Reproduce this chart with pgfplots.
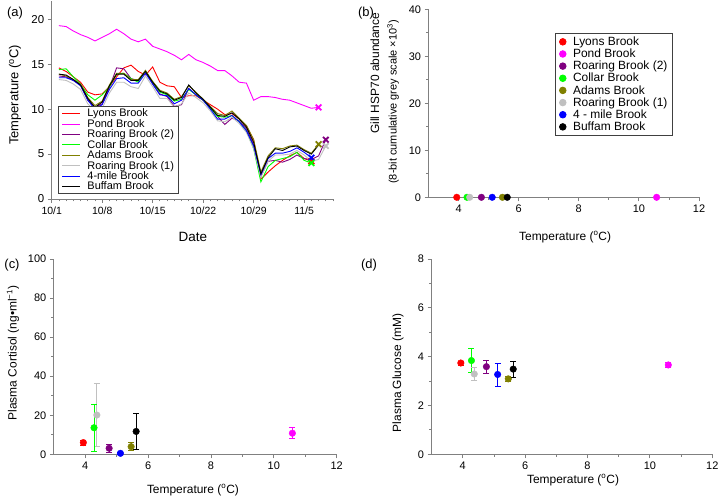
\documentclass[border=0pt]{standalone}
\usepackage{pgfplots}
\pgfplotsset{compat=1.18}
\usepackage{fontspec}
\setmainfont{Liberation Sans}

\definecolor{lyons}{RGB}{255,0,0}
\definecolor{pond}{RGB}{255,0,255}
\definecolor{roartwo}{RGB}{128,0,128}
\definecolor{collar}{RGB}{0,255,0}
\definecolor{adams}{RGB}{128,128,0}
\definecolor{roarone}{RGB}{192,192,192}
\definecolor{mile}{RGB}{0,0,255}
\definecolor{axgray}{RGB}{128,128,128}

\pgfplotsset{
  panel/.style={
    scale only axis,
    axis x line*=bottom, axis y line*=left,
    axis line style={axgray, line width=0.8bp, -},
    tick style={axgray, line width=0.8bp},
    tick align=outside,
    major tick length=4bp, minor tick length=2.5bp,
    /pgf/number format/assume math mode=true,
    tick label style={font=\fontsize{11}{13}\selectfont, black},
    label style={font=\fontsize{12}{14}\selectfont},
    clip=false,
  },
  dot/.style={only marks, mark=*, mark size=3.3bp},
  bars/.style={error bars/.cd, y dir=both, y explicit,
    error bar style={line width=0.8bp},
    error mark options={rotate=90, mark size=3bp, line width=0.8bp}},
  cross/.style={only marks, mark=x, mark size=4bp, line width=1.8bp, forget plot},
}

\begin{document}
\begin{tikzpicture}
\path[use as bounding box] (0,0) rectangle (720bp,501bp);

% panel letters
\node[font=\fontsize{13}{15}\selectfont] at (15bp,488bp) {(a)};
\node[font=\fontsize{13}{15}\selectfont] at (366bp,488bp) {(b)};
\node[font=\fontsize{13}{15}\selectfont] at (12bp,236bp) {(c)};
\node[font=\fontsize{13}{15}\selectfont] at (369bp,236bp) {(d)};

% (a) temperature time series, days after 10/1
\begin{axis}[panel, at={(51.7bp,302bp)}, anchor=south west,
  width=281.3bp, height=197.6bp,
  xmin=0, xmax=39, ymin=0, ymax=22,
  xtick={0,7,14,21,28,35},
  xticklabels={10/1,10/8,10/15,10/22,10/29,11/5},
  minor xtick={0,...,39},
  ytick={0,5,10,15,20},
  xticklabel style={font=\fontsize{10.5}{12}\selectfont},
  yticklabel style={font=\fontsize{11.5}{13}\selectfont},
  xlabel={Date}, ylabel={Temperature (\textsuperscript{o}C)},
  xlabel style={at={(axis description cs:0.502,-0.192)}, anchor=center, font=\fontsize{13.5}{15}\selectfont},
  ylabel style={at={(axis description cs:-0.13,0.526)}, anchor=center, font=\fontsize{13}{15}\selectfont},
  legend style={at={(0.021,0.024)}, anchor=south west, draw=black!75, line width=0.8bp,
    font=\fontsize{11}{12}\selectfont, nodes={inner sep=0.5pt},
    inner xsep=4pt, column sep=6pt},
  legend cell align=left,
  legend image code/.code={\draw[#1, line width=1bp] (0bp,0bp) -- (18bp,0bp);},
  every axis plot/.append style={line width=0.9bp},
]
\addplot[lyons, no marks] coordinates {
(1,14.6) (2,14.2) (3,13.6) (4,13.0) (5,11.9) (6,11.6) (7,11.7) (8,12.5) (9,13.6)
(10,14.6) (11,14.9) (12,14.2) (13,13.8) (14,14.7) (15,13.0) (16,12.6) (17,12.5)
(18,11.3) (19,11.5) (20,11.5) (21,11.0) (22,10.5) (23,10.0) (24,9.4) (25,9.5)
(26,8.9) (27,8.1) (28,6.6) (29,2.2) (30,3.0) (31,3.7) (32,4.3) (33,4.8) (34,5.2)
(35,4.5) (36,4.2)};
\addlegendentry{Lyons Brook}
\addplot[pond, no marks] coordinates {
(1,19.3) (2,19.2) (3,18.7) (4,18.3) (5,18.0) (6,17.6) (7,18.0) (8,18.4) (9,18.9)
(10,18.4) (11,17.8) (12,17.5) (13,17.8) (14,17.0) (15,16.7) (16,16.4) (17,16.0)
(18,15.5) (19,16.1) (20,15.5) (21,15.2) (22,14.8) (23,14.3) (24,14.3) (25,13.7)
(26,13.0) (27,12.9) (28,11.0) (29,11.4) (30,11.4) (31,11.3) (32,11.1) (33,11.0)
(34,10.7) (35,10.4) (36,10.1) (37,10.2)};
\addlegendentry{Pond Brook}
\addplot[roartwo, no marks] coordinates {
(1,13.7) (2,13.6) (3,13.2) (4,12.7) (5,11.0) (6,10.2) (7,10.6) (8,12.4) (9,14.6)
(10,14.5) (11,13.4) (12,13.2) (13,14.3) (14,12.8) (15,11.7) (16,11.4) (17,10.3)
(18,10.5) (19,12.3) (20,11.6) (21,11.0) (22,10.2) (23,9.2) (24,8.3) (25,9.0)
(26,8.7) (27,7.8) (28,6.0) (29,2.5) (30,4.2) (31,4.3) (32,4.1) (33,4.4) (34,4.9)
(35,4.5) (36,4.4) (37,4.8) (38,6.6)};
\addlegendentry{Roaring Brook (2)}
\addplot[collar, no marks] coordinates {
(1,14.4) (2,14.5) (3,13.6) (4,12.8) (5,11.6) (6,11.0) (7,11.6) (8,12.5) (9,13.9)
(10,14.0) (11,13.4) (12,13.0) (13,14.3) (14,13.0) (15,11.9) (16,11.6) (17,10.9)
(18,11.1) (19,12.2) (20,11.6) (21,11.0) (22,10.1) (23,9.2) (24,9.1) (25,9.3)
(26,8.6) (27,7.6) (28,5.6) (29,1.9) (30,3.6) (31,4.3) (32,4.5) (33,4.7) (34,5.2)
(35,4.3) (36,4.0)};
\addlegendentry{Collar Brook}
\addplot[adams, no marks] coordinates {
(1,13.9) (2,13.7) (3,13.3) (4,12.8) (5,11.3) (6,10.4) (7,10.9) (8,12.7) (9,14.0)
(10,14.0) (11,13.3) (12,13.3) (13,14.3) (14,13.1) (15,12.1) (16,11.8) (17,11.1)
(18,11.4) (19,12.6) (20,11.9) (21,11.1) (22,10.3) (23,9.5) (24,9.3) (25,9.8)
(26,9.0) (27,8.2) (28,6.6) (29,3.0) (30,4.8) (31,5.7) (32,5.6) (33,5.9) (34,6.0)
(35,5.5) (36,5.1) (37,6.1)};
\addlegendentry{Adams Brook}
\addplot[roarone, no marks] coordinates {
(1,13.3) (2,13.2) (3,12.8) (4,12.2) (5,10.6) (6,9.8) (7,10.1) (8,11.8) (9,13.0)
(10,13.0) (11,12.5) (12,12.3) (13,13.7) (14,12.5) (15,11.2) (16,11.2) (17,10.2)
(18,10.6) (19,11.8) (20,11.3) (21,10.7) (22,9.8) (23,8.7) (24,8.6) (25,9.1)
(26,8.4) (27,7.4) (28,5.6) (29,2.4) (30,4.2) (31,4.9) (32,4.9) (33,5.0) (34,5.4)
(35,4.9) (36,4.2) (37,4.4) (38,5.9)};
\addlegendentry{Roaring Brook (1)}
\addplot[mile, no marks] coordinates {
(1,13.5) (2,13.5) (3,13.2) (4,12.6) (5,11.0) (6,10.0) (7,10.5) (8,12.2) (9,13.4)
(10,13.5) (11,12.9) (12,12.9) (13,14.0) (14,12.8) (15,11.6) (16,11.5) (17,10.6)
(18,11.0) (19,12.3) (20,11.6) (21,11.0) (22,10.0) (23,8.9) (24,8.9) (25,9.3)
(26,8.6) (27,7.6) (28,5.9) (29,2.7) (30,4.5) (31,5.1) (32,5.1) (33,5.3) (34,5.7)
(35,5.2) (36,4.6)};
\addlegendentry{4-mile Brook}
\addplot[black, no marks] coordinates {
(1,13.9) (2,13.8) (3,13.3) (4,12.7) (5,11.2) (6,10.2) (7,10.8) (8,12.6) (9,13.9)
(10,13.9) (11,13.2) (12,13.2) (13,14.2) (14,13.0) (15,12.0) (16,11.7) (17,11.0)
(18,11.3) (19,12.7) (20,11.8) (21,11.1) (22,10.2) (23,9.3) (24,9.2) (25,9.6)
(26,8.9) (27,8.0) (28,6.3) (29,2.8) (30,4.6) (31,5.6) (32,5.4) (33,5.8) (34,5.9)
(35,5.4) (36,5.0) (37,6.0)};
\addlegendentry{Buffam Brook}
% sampling days
\addplot[cross, lyons] coordinates {(36,4.2)};
\addplot[cross, roarone] coordinates {(38,5.9)};
\addplot[cross, pond] coordinates {(37,10.2)};
\addplot[cross, mile] coordinates {(36,4.6)};
\addplot[cross, collar] coordinates {(36,4.0)};
\addplot[cross, adams] coordinates {(37,6.1)};
\addplot[cross, roartwo] coordinates {(38,6.6)};
\end{axis}

% (b) gill HSP70
\begin{axis}[panel, at={(428.5bp,303.7bp)}, anchor=south west,
  width=270.5bp, height=188bp,
  xmin=3, xmax=12, ymin=0, ymax=40,
  xtick={4,6,...,12}, minor xtick={5,7,9,11},
  ytick={0,10,...,40}, minor ytick={5,15,25,35},
  xlabel={Temperature (\textsuperscript{o}C)},
  ylabel={Gill HSP70 abundance},
  xlabel style={at={(axis description cs:0.505,-0.211)}, anchor=center},
  ylabel style={at={(axis description cs:-0.198,0.66)}, anchor=center},
  legend style={at={(0.468,0.872)}, anchor=north west, draw=black!75, line width=0.8bp,
    font=\fontsize{12}{13}\selectfont, nodes={inner sep=1pt},
    inner xsep=4pt, column sep=6pt},
  legend cell align=left,
]
\addplot[dot, lyons] coordinates {(3.94,0)};
\addlegendentry{Lyons Brook}
\addplot[dot, pond] coordinates {(10.59,0)};
\addlegendentry{Pond Brook}
\addplot[dot, roartwo] coordinates {(4.76,0)};
\addlegendentry{Roaring Brook (2)}
\addplot[dot, collar] coordinates {(4.28,0)};
\addlegendentry{Collar Brook}
\addplot[dot, adams] coordinates {(5.46,0)};
\addlegendentry{Adams Brook}
\addplot[dot, roarone] coordinates {(4.37,0)};
\addlegendentry{Roaring Brook (1)}
\addplot[dot, mile] coordinates {(5.12,0)};
\addlegendentry{4 - mile Brook}
\addplot[dot, black] coordinates {(5.62,0)};
\addlegendentry{Buffam Brook}
\node[rotate=90, font=\fontsize{11}{12}\selectfont] at (axis description cs:-0.131,0.507)
  {(8-bit cumulative grey scale ×10\textsuperscript{3})};
\end{axis}

% (c) plasma cortisol
\begin{axis}[panel, at={(53.8bp,46.7bp)}, anchor=south west,
  width=282.9bp, height=195.3bp,
  xmin=3, xmax=12, ymin=0, ymax=100,
  xtick={4,6,...,12}, minor xtick={5,7,9,11},
  ytick={0,20,...,100}, minor ytick={10,30,...,90},
  xlabel={Temperature (\textsuperscript{o}C)},
  ylabel={Plasma Cortisol (ng•ml\textsuperscript{−1})},
  xlabel style={at={(axis description cs:0.492,-0.183)}, anchor=center},
  ylabel style={at={(axis description cs:-0.144,0.519)}, anchor=center},
]
\addplot[dot, lyons, bars] coordinates {(3.94,6.0) +- (0,1.3)};
\addplot[dot, roarone, bars] coordinates {(4.37,20.1) +- (0,16.2)};
\addplot[dot, collar, bars] coordinates {(4.28,13.6) +- (0,12.0)};
\addplot[dot, roartwo, bars] coordinates {(4.76,3.1) +- (0,2.0)};
\addplot[dot, mile, bars] coordinates {(5.12,0.5) +- (0,0.3)};
\addplot[dot, adams, bars] coordinates {(5.46,3.9) +- (0,2.1)};
\addplot[dot, black, bars] coordinates {(5.62,11.7) +- (0,9.3)};
\addplot[dot, pond, bars] coordinates {(10.59,10.8) +- (0,2.9)};
\end{axis}

% (d) plasma glucose
\begin{axis}[panel, at={(431.5bp,46.7bp)}, anchor=south west,
  width=280.8bp, height=195.3bp,
  xmin=3, xmax=12, ymin=0, ymax=8,
  xtick={4,6,...,12}, minor xtick={5,7,9,11},
  ytick={0,2,...,8}, minor ytick={1,3,5,7},
  xlabel={Temperature (\textsuperscript{o}C)},
  ylabel={Plasma Glucose (mM)},
  xlabel style={at={(axis description cs:0.504,-0.132)}, anchor=center},
  ylabel style={at={(axis description cs:-0.119,0.416)}, anchor=center},
]
\addplot[dot, lyons, bars] coordinates {(3.94,3.74) +- (0,0.08)};
\addplot[dot, collar, bars] coordinates {(4.28,3.84) +- (0,0.5)};
\addplot[dot, roarone, bars] coordinates {(4.37,3.29) +- (0,0.25)};
\addplot[dot, roartwo, bars] coordinates {(4.76,3.59) +- (0,0.27)};
\addplot[dot, mile, bars] coordinates {(5.12,3.27) +- (0,0.47)};
\addplot[dot, adams, bars] coordinates {(5.46,3.09) +- (0,0.12)};
\addplot[dot, black, bars] coordinates {(5.62,3.49) +- (0,0.33)};
\addplot[dot, pond, bars] coordinates {(10.59,3.66) +- (0,0.1)};
\end{axis}
\end{tikzpicture}
\end{document}
